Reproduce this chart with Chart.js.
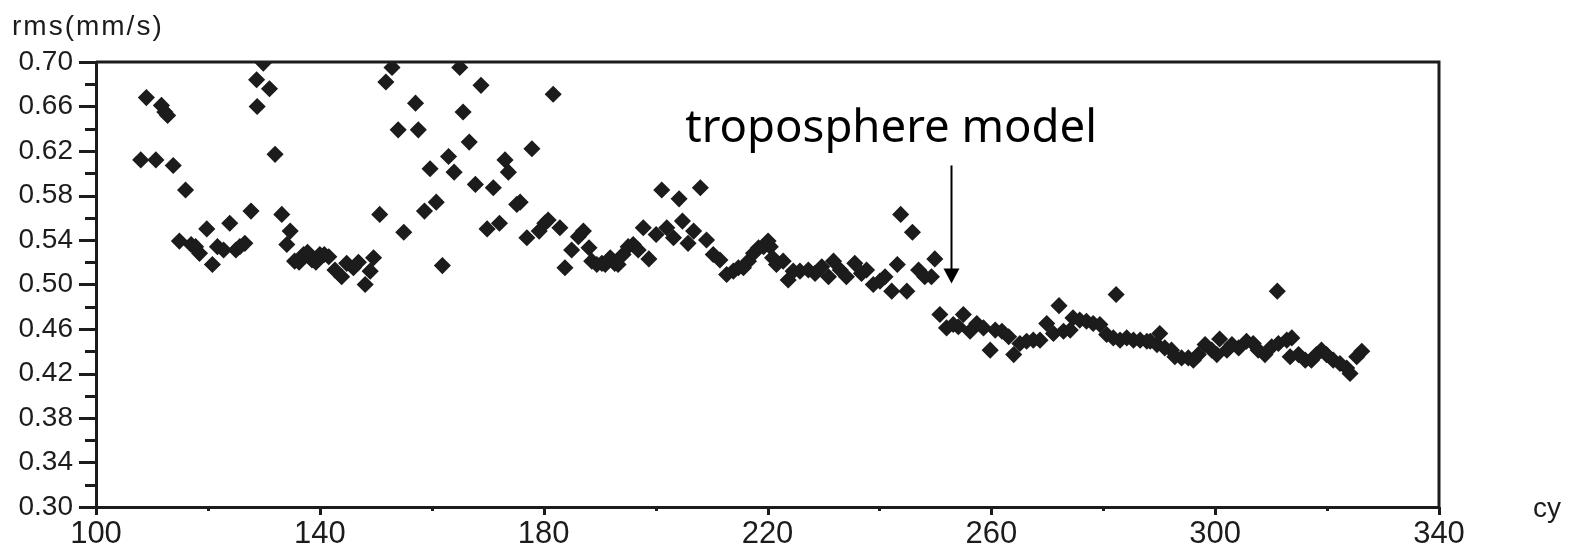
<!DOCTYPE html>
<html>
<head>
<meta charset="utf-8">
<script src="https://cdn.jsdelivr.net/npm/chart.js@4.4.0/dist/chart.umd.min.js"></script>
<style>
  body { margin: 0; background: #fff; }
  #wrap { width: 1573px; height: 548px; }
</style>
</head>
<body>
<div id="wrap"><canvas id="rmsChart" width="1573" height="548"></canvas></div>
<script>
// cycle numbers and rms values
const cycles = [
  108.0, 109.0, 110.7, 111.7, 112.3, 112.8, 113.8, 114.9, 116.0, 117.0,
  117.8, 118.5, 119.8, 120.8, 121.7, 122.8, 123.9, 125.0, 125.7, 126.6,
  127.7, 128.7, 128.8, 129.9, 131.0, 132.0, 133.2, 134.1, 134.7, 135.5,
  136.3, 137.1, 137.8, 138.6, 139.3, 140.0, 140.8, 141.6, 142.7, 143.9,
  144.8, 146.0, 146.9, 148.1, 149.0, 149.6, 150.7, 151.8, 152.9, 154.0,
  155.0, 157.1, 157.6, 158.7, 159.7, 160.8, 161.9, 163.0, 164.0, 165.0,
  165.6, 166.7, 167.8, 168.8, 169.9, 171.0, 172.1, 173.1, 173.7, 175.2,
  175.8, 177.0, 177.9, 179.2, 180.2, 180.8, 181.7, 182.9, 183.8, 185.0,
  186.2, 187.1, 188.1, 188.6, 189.5, 190.4, 191.0, 191.9, 192.7, 193.3,
  194.2, 195.1, 196.0, 196.9, 197.8, 198.8, 200.1, 201.1, 202.0, 203.2,
  204.2, 204.8, 205.8, 206.8, 208.0, 209.1, 210.3, 211.5, 212.7, 213.9,
  214.8, 215.7, 216.6, 217.5, 218.4, 219.3, 220.1, 220.5, 220.9, 221.6,
  222.8, 223.7, 224.6, 225.8, 227.3, 228.5, 229.7, 230.9, 231.8, 233.0,
  234.1, 235.6, 236.8, 237.7, 238.9, 240.1, 241.0, 242.2, 243.2, 243.8,
  244.9, 245.9, 247.0, 248.1, 249.3, 249.9, 250.8, 252.0, 253.2, 254.1,
  255.0, 256.2, 257.4, 258.6, 259.8, 260.7, 261.9, 263.1, 264.0, 265.1,
  266.3, 267.5, 268.7, 269.9, 271.1, 272.1, 272.9, 274.1, 274.6, 275.8,
  277.0, 278.2, 279.4, 280.6, 281.8, 282.3, 283.0, 284.2, 285.4, 286.6,
  287.8, 288.4, 289.6, 290.1, 291.0, 292.2, 292.8, 294.0, 295.2, 296.1,
  297.0, 298.2, 299.4, 300.3, 300.8, 302.1, 303.0, 304.2, 305.6, 306.8,
  307.7, 308.9, 310.1, 311.1, 311.3, 312.8, 313.7, 313.4, 314.9, 316.1,
  317.2, 318.1, 319.0, 319.9, 321.1, 322.3, 323.5, 324.1, 325.3, 326.2
];
const rms = [
  0.612, 0.668, 0.612, 0.661, 0.655, 0.652, 0.607, 0.539, 0.585, 0.536,
  0.534, 0.528, 0.550, 0.518, 0.534, 0.531, 0.555, 0.531, 0.534, 0.537,
  0.566, 0.684, 0.660, 0.699, 0.676, 0.617, 0.563, 0.536, 0.548, 0.521,
  0.520, 0.527, 0.529, 0.522, 0.520, 0.527, 0.527, 0.525, 0.513, 0.507,
  0.519, 0.515, 0.520, 0.500, 0.512, 0.524, 0.563, 0.682, 0.695, 0.639,
  0.547, 0.663, 0.639, 0.566, 0.604, 0.574, 0.517, 0.615, 0.601, 0.695,
  0.655, 0.628, 0.590, 0.679, 0.550, 0.587, 0.555, 0.612, 0.601, 0.572,
  0.574, 0.542, 0.622, 0.548, 0.555, 0.558, 0.671, 0.551, 0.515, 0.531,
  0.543, 0.548, 0.533, 0.521, 0.518, 0.519, 0.518, 0.524, 0.519, 0.518,
  0.527, 0.534, 0.536, 0.531, 0.551, 0.523, 0.545, 0.585, 0.551, 0.542,
  0.577, 0.557, 0.537, 0.548, 0.587, 0.540, 0.527, 0.522, 0.509, 0.512,
  0.515, 0.515, 0.521, 0.528, 0.533, 0.534, 0.539, 0.534, 0.524, 0.518,
  0.521, 0.504, 0.512, 0.512, 0.513, 0.510, 0.516, 0.507, 0.521, 0.513,
  0.507, 0.519, 0.510, 0.513, 0.500, 0.503, 0.507, 0.494, 0.518, 0.563,
  0.494, 0.547, 0.513, 0.507, 0.507, 0.523, 0.473, 0.461, 0.464, 0.462,
  0.473, 0.458, 0.465, 0.461, 0.441, 0.459, 0.458, 0.453, 0.437, 0.447,
  0.449, 0.450, 0.450, 0.465, 0.456, 0.481, 0.458, 0.459, 0.470, 0.468,
  0.467, 0.465, 0.464, 0.455, 0.452, 0.491, 0.450, 0.452, 0.450, 0.450,
  0.449, 0.449, 0.446, 0.456, 0.443, 0.441, 0.435, 0.434, 0.434, 0.432,
  0.437, 0.446, 0.441, 0.437, 0.451, 0.441, 0.446, 0.443, 0.449, 0.447,
  0.441, 0.437, 0.444, 0.494, 0.447, 0.450, 0.452, 0.435, 0.437, 0.432,
  0.432, 0.437, 0.441, 0.437, 0.432, 0.429, 0.425, 0.420, 0.435, 0.440
];

const xTicks = [100, 140, 180, 220, 260, 300, 340];
const xMinorTicks = [120, 160, 200, 240, 280, 320];
const yTicks = [0.30, 0.34, 0.38, 0.42, 0.46, 0.50, 0.54, 0.58, 0.62, 0.66, 0.70];
const yMinorTicks = [0.32, 0.36, 0.40, 0.44, 0.48, 0.52, 0.56, 0.60, 0.64, 0.68];

const yTitle = "rms(mm/s)";
const xTitle = "cy";
const noteText = "troposphere model";
// annotation anchor in data units
const noteX = 205.3, noteY = 0.628;
const arrowX = 252.8, arrowTop = 0.607, arrowTip = 0.501;

const ink = "#1c1c1c";

const points = cycles.map((c, i) => ({ x: c, y: rms[i] }));

const decorPlugin = {
  id: "decor",
  afterDraw(chart) {
    const ctx = chart.ctx;
    const area = chart.chartArea;
    const xs = chart.scales.x;
    const ys = chart.scales.y;
    ctx.save();
    ctx.strokeStyle = ink;
    ctx.fillStyle = ink;

    // frame
    ctx.lineWidth = 3;
    ctx.beginPath();
    ctx.moveTo(area.left, area.top);
    ctx.lineTo(area.right, area.top);
    ctx.lineTo(area.right, area.bottom);
    ctx.stroke();

    // tick marks
    ctx.lineWidth = 3;
    yTicks.forEach(v => {
      const y = Math.round(ys.getPixelForValue(v)) + 0.5;
      ctx.beginPath(); ctx.moveTo(area.left - 17, y); ctx.lineTo(area.left, y); ctx.stroke();
    });
    yMinorTicks.forEach(v => {
      const y = Math.round(ys.getPixelForValue(v)) + 0.5;
      ctx.beginPath(); ctx.moveTo(area.left - 11, y); ctx.lineTo(area.left, y); ctx.stroke();
    });
    xTicks.forEach(v => {
      const x = Math.round(xs.getPixelForValue(v)) + 0.5;
      ctx.beginPath(); ctx.moveTo(x, area.bottom); ctx.lineTo(x, area.bottom + 8); ctx.stroke();
    });
    xMinorTicks.forEach(v => {
      const x = Math.round(xs.getPixelForValue(v)) + 0.5;
      ctx.beginPath(); ctx.moveTo(x, area.bottom); ctx.lineTo(x, area.bottom + 4); ctx.stroke();
    });

    // axis titles
    ctx.font = "28px 'Liberation Sans'";
    ctx.textBaseline = "alphabetic";
    ctx.textAlign = "left";
    ctx.letterSpacing = "2px";
    ctx.fillText(yTitle, 12, 35);
    ctx.letterSpacing = "0px";
    ctx.fillText(xTitle, area.right + 94, area.bottom + 10);

    // annotation
    ctx.fillStyle = "#000";
    ctx.font = "40px 'Noto Sans'";
    const w = ctx.measureText(noteText).width;
    const size = 40 * 412 / w;
    ctx.font = size.toFixed(1) + "px 'Noto Sans'";
    ctx.fillText(noteText, xs.getPixelForValue(noteX), ys.getPixelForValue(noteY));

    const ax = Math.round(xs.getPixelForValue(arrowX)) + 0.5;
    const top = ys.getPixelForValue(arrowTop);
    const tip = ys.getPixelForValue(arrowTip);
    ctx.strokeStyle = "#000";
    ctx.lineWidth = 2;
    ctx.beginPath(); ctx.moveTo(ax, top); ctx.lineTo(ax, tip - 14); ctx.stroke();
    ctx.beginPath();
    ctx.moveTo(ax - 8, tip - 15);
    ctx.lineTo(ax + 8, tip - 15);
    ctx.lineTo(ax, tip);
    ctx.closePath();
    ctx.fill();
    ctx.restore();
  }
};

new Chart(document.getElementById("rmsChart"), {
  type: "scatter",
  data: {
    datasets: [{
      data: points,
      pointStyle: "rectRot",
      pointRadius: 7.5,
      pointHoverRadius: 7.5,
      backgroundColor: ink,
      borderColor: ink,
      borderWidth: 1.5
    }]
  },
  options: {
    responsive: false,
    animation: false,
    devicePixelRatio: 1,
    layout: { padding: { left: 0, top: 62, right: 134, bottom: 0 } },
    plugins: {
      legend: { display: false },
      tooltip: { enabled: false }
    },
    scales: {
      x: {
        type: "linear",
        min: 100,
        max: 340,
        afterBuildTicks: s => { s.ticks = xTicks.map(v => ({ value: v })); },
        afterFit: s => { s.height = 41; },
        grid: { display: false, drawTicks: false },
        border: { display: true, color: ink, width: 3 },
        ticks: {
          color: ink,
          padding: 9,
          maxRotation: 0,
          font: { family: "'Liberation Sans'", size: 31 },
          callback: v => String(v)
        }
      },
      y: {
        type: "linear",
        min: 0.30,
        max: 0.70,
        afterBuildTicks: s => { s.ticks = yTicks.map(v => ({ value: v })); },
        afterFit: s => { s.width = 96; },
        grid: { display: false, drawTicks: false },
        border: { display: true, color: ink, width: 3 },
        ticks: {
          color: ink,
          padding: 23,
          font: { family: "'Liberation Sans'", size: 28 },
          callback: v => Number(v).toFixed(2)
        }
      }
    }
  },
  plugins: [decorPlugin]
});
</script>
</body>
</html>
